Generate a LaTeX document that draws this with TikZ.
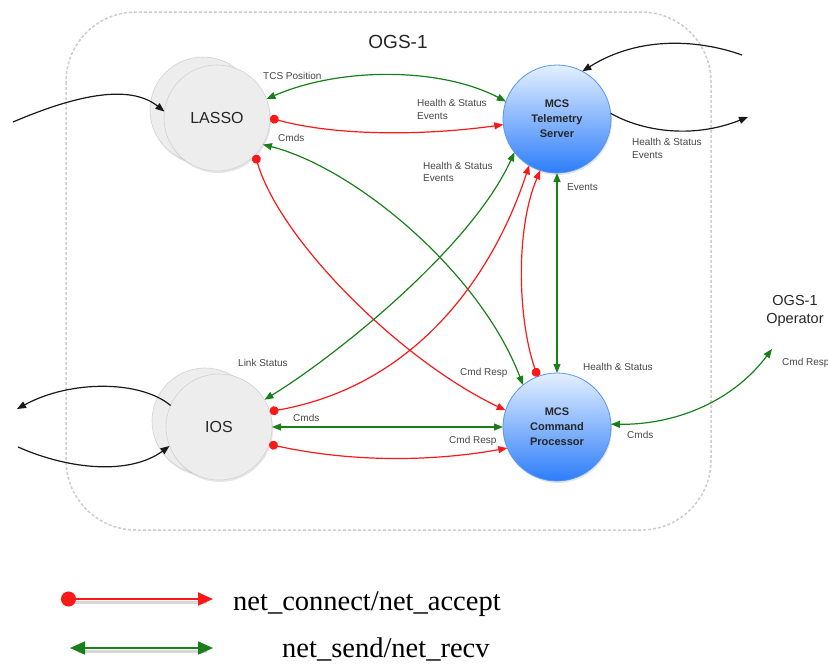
\documentclass[tikz,border=0pt]{standalone}
\usepackage{fontspec}
\setmainfont{Liberation Sans}
\newfontfamily\legendfont{Liberation Serif}
\usetikzlibrary{arrows.meta,shadows}
\definecolor{redc}{RGB}{250,25,25}
\definecolor{greenc}{RGB}{25,128,25}
\definecolor{bluetop}{RGB}{228,240,255}
\definecolor{bluebot}{RGB}{45,125,250}
\definecolor{blueborder}{RGB}{85,150,245}
\definecolor{labelc}{RGB}{70,70,70}
\definecolor{boxc}{RGB}{205,205,205}
\tikzset{
  graycirc/.style={circle, minimum size=106pt, inner sep=0pt, outer sep=0pt,
    fill=gray!14, draw=gray!35, line width=0.6pt,
    drop shadow={shadow xshift=1pt, shadow yshift=-2pt, opacity=0.2},
    font=\fontsize{16}{18}\selectfont, text=black!85},
  bluecirc/.style={circle, minimum size=108pt, inner sep=0pt, outer sep=0pt,
    top color=bluetop, bottom color=bluebot, draw=blueborder, line width=0.8pt,
    drop shadow={shadow xshift=1pt, shadow yshift=-2pt, opacity=0.2},
    font=\bfseries\fontsize{11}{15}\selectfont, align=center, text=black!85},
  conn/.style={line width=1.2pt},
  redarrow/.style={conn, draw=redc, {Circle[length=9pt]}-{Triangle[length=9pt,width=7pt]}},
  greenarrow/.style={conn, draw=greenc, {Triangle[length=9pt,width=7pt]}-{Triangle[length=9pt,width=7pt]}},
  blackarrow/.style={conn, draw=black!90, -{Triangle[length=9pt,width=7pt]}},
  lbl/.style={anchor=west, font=\fontsize{10}{12.5}\selectfont, text=labelc, inner sep=0pt, align=left},
  legtext/.style={anchor=base west, inner sep=0pt, font=\legendfont\fontsize{28.5}{30}\selectfont, text=black},
  legshadow/.style={line width=3pt, draw=gray!45, opacity=0.7},
}
\begin{document}
\begin{tikzpicture}[x=1pt,y=-1pt]
\useasboundingbox (0,0) rectangle (828,664);
% container
\draw[boxc, line width=1.5pt, dash pattern=on 3pt off 2pt, rounded corners=70pt] (66,12) rectangle (711,530);
\node[font=\fontsize{19}{22}\selectfont, text=black!85] (title) at (398,42) {OGS-1};
\node[font=\fontsize{14.5}{18}\selectfont, align=center, text=black!85] (oper) at (795,311) {OGS-1\\Operator};

% nodes
\node[graycirc] (lassob) at (203,110) {};
\node[graycirc] (lasso) at (217,118) {LASSO};
\node[graycirc] (iosb) at (205,421) {};
\node[graycirc] (ios) at (219,427) {IOS};
\node[bluecirc] (tel) at (557,119) {MCS\\Telemetry\\Server};
\node[bluecirc] (cp) at (557,427) {MCS\\Command\\Processor};

% free ends
\coordinate (opin) at (772,349);
\coordinate (lin) at (13,122);
\coordinate (tin) at (742,55);
\coordinate (tout) at (748,117);
\coordinate (iout) at (17,409);
\coordinate (iin) at (18,447);

% connectors
\draw[greenarrow] (lasso.21) .. controls (340,67) and (440,67) .. (tel.161);
\draw[redarrow] (lasso.0) .. controls (340,137) and (430,135) .. (tel.186);
\draw[greenarrow] (lasso.-30) .. controls (355,168) and (480,272) .. (cp.129);
\draw[redarrow] (lasso.-44) .. controls (280,240) and (400,360) .. (cp.162);
\draw[greenarrow] (ios.31) .. controls (330,360) and (470,250) .. (tel.218);
\draw[redarrow] (ios.17) .. controls (420,385) and (495,270) .. (tel.239);
\draw[redarrow] (cp.111) .. controls (518,320) and (515,230) .. (tel.252);
\draw[greenarrow] (tel.270) -- (cp.90);
\draw[greenarrow] (ios.0) -- (cp.180);
\draw[redarrow] (ios.-19) .. controls (350,462) and (430,462) .. (cp.203);
\draw[greenarrow] (cp.3) .. controls (670,425) and (730,405) .. (opin);

\draw[blackarrow] (lin) .. controls (60,102) and (125,80) .. (lasso.173);
\draw[blackarrow] (tin) .. controls (700,40) and (640,35) .. (tel.62);
\draw[blackarrow] (tel.6) .. controls (640,130) and (690,140) .. (tout);
\draw[blackarrow] (ios.156) .. controls (140,380) and (70,380) .. (iout);
\draw[blackarrow] (iin) .. controls (70,470) and (130,475) .. (ios.201);

% labels
\node[lbl] (l1) at (263,76) {TCS Position};
\node[lbl] (l2) at (417,109.5) {Health \& Status\\Events};
\node[lbl] (l3) at (278,138) {Cmds};
\node[lbl] (l4) at (423,172) {Health \& Status\\Events};
\node[lbl] (l5) at (632,148.5) {Health \& Status\\Events};
\node[lbl] (l6) at (567,187) {Events};
\node[lbl] (l7) at (238,363) {Link Status};
\node[lbl] (l8) at (460,373) {Cmd Resp};
\node[lbl] (l9) at (583,367) {Health \& Status};
\node[lbl] (l10) at (293,418) {Cmds};
\node[lbl] (l11) at (449,441) {Cmd Resp};
\node[lbl] (l12) at (627,435) {Cmds};
\node[lbl] (l13) at (782,363) {Cmd Resp};

% legend
\coordinate (ga) at (61,599);
\coordinate (gb) at (213,599);
\coordinate (gc) at (70,648);
\coordinate (gd) at (213,648);
\draw[legshadow] ([shift={(8,3)}]ga) -- ([shift={(-6,3)}]gb);
\draw[legshadow] ([shift={(8,3)}]gc) -- ([shift={(-6,3)}]gd);
\draw[redc, line width=2pt, {Circle[length=15pt]}-{Triangle[length=15pt,width=13pt]}] (ga) -- (gb);
\draw[greenc, line width=2pt, {Triangle[length=15pt,width=13pt]}-{Triangle[length=15pt,width=13pt]}] (gc) -- (gd);
\node[legtext] (t1) at (233,610) {net\_connect/net\_accept};
\node[legtext] (t2) at (282,657) {net\_send/net\_recv};
\end{tikzpicture}
\end{document}
